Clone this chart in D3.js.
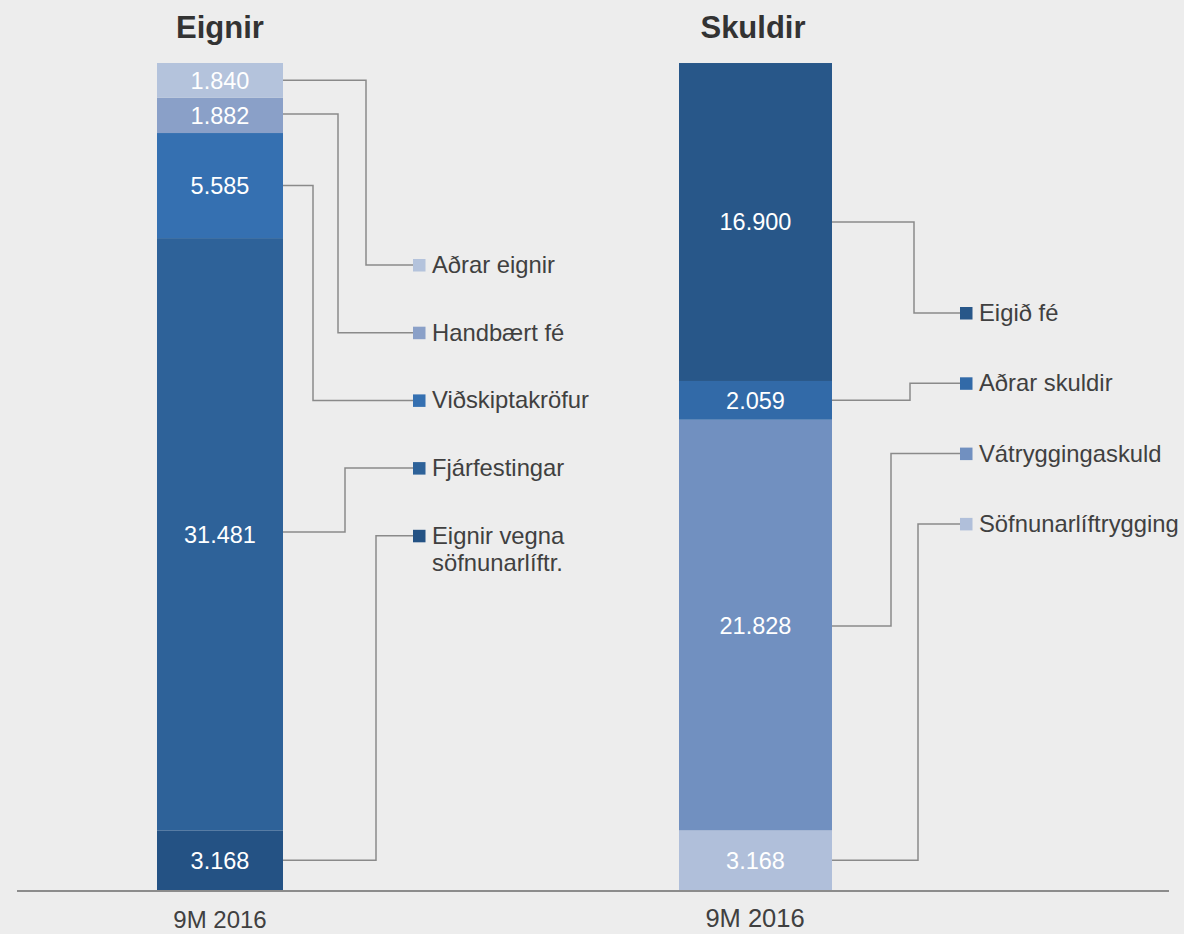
<!DOCTYPE html>
<html>
<head>
<meta charset="utf-8">
<script src="https://cdnjs.cloudflare.com/ajax/libs/d3/7.8.5/d3.min.js"></script>
<style>
  html, body { margin: 0; padding: 0; background: #ededed; }
  svg { display: block; font-family: "Liberation Sans", Arial, sans-serif; }
</style>
</head>
<body>
<svg id="chart" width="1184" height="934"></svg>
<script>
// ---------- DATA ----------
const category = "9M 2016";
const titles = ["Eignir", "Skuldir"];

// bottom to top
const assetNames  = ["Eignir vegna söfnunarlíftr.", "Fjárfestingar", "Viðskiptakröfur", "Handbært fé", "Aðrar eignir"];
const assetValues = [3.168, 31.481, 5.585, 1.882, 1.840];
const assetLabels = ["3.168", "31.481", "5.585", "1.882", "1.840"];

const liabNames  = ["Söfnunarlíftrygging", "Vátryggingaskuld", "Aðrar skuldir", "Eigið fé"];
const liabValues = [3.168, 21.828, 2.059, 16.900];
const liabLabels = ["3.168", "21.828", "2.059", "16.900"];

// ---------- STYLE / LAYOUT ----------
const assetColors = ["#245284", "#2e6299", "#3570b1", "#8aa0c8", "#b4c3dc"];
const liabColors  = ["#b0bfda", "#7190c0", "#326aa8", "#285789"];

const svg = d3.select("#chart");
const W = 1184, H = 934;
svg.append("rect").attr("width", W).attr("height", H).attr("fill", "#ededed");

const yBase = 890, yTop = 63;
const total = Math.max(d3.sum(assetValues), d3.sum(liabValues));
const y = d3.scaleLinear().domain([0, total]).range([yBase, yTop]);

const panels = [
  {
    title: titles[0], names: assetNames, values: assetValues, labels: assetLabels, colors: assetColors,
    x: d3.scaleBand().domain([category]).range([157, 283]).padding(0),
    titleX: 220, catX: 220, catY: 928, catSize: 24,
    legendOrder: [4, 3, 2, 1, 0],
    legendMarkerX: 413, legendY0: 265, legendStep: 67.7,
    elbowX: { 4: 366, 3: 338, 2: 313, 1: 345, 0: 376 },
    leaderY: { 3: 114, 1: 532 }
  },
  {
    title: titles[1], names: liabNames, values: liabValues, labels: liabLabels, colors: liabColors,
    x: d3.scaleBand().domain([category]).range([679, 832]).padding(0),
    titleX: 753, catX: 755, catY: 927, catSize: 25.5,
    legendOrder: [3, 2, 1, 0],
    legendMarkerX: 960, legendY0: 313, legendStep: 70.3,
    elbowX: { 3: 914, 2: 910, 1: 891, 0: 918 },
    leaderY: { 1: 626 }
  }
];

// baseline
svg.append("line")
  .attr("x1", 17).attr("x2", 1169)
  .attr("y1", yBase + 1).attr("y2", yBase + 1)
  .attr("stroke", "#8c8c8c").attr("stroke-width", 2);

panels.forEach(p => {
  const row = { cat: category };
  p.names.forEach((n, i) => row[n] = p.values[i]);
  const stacked = d3.stack().keys(p.names)([row]);

  const g = svg.append("g");
  const bx = p.x(category), bw = p.x.bandwidth();

  g.append("text")
    .attr("x", p.titleX).attr("y", 38)
    .attr("text-anchor", "middle")
    .attr("font-size", 31).attr("font-weight", "bold")
    .attr("fill", "#333333")
    .text(p.title);

  g.selectAll("rect.seg").data(stacked).join("rect")
    .attr("class", "seg")
    .attr("x", bx).attr("width", bw)
    .attr("y", d => y(d[0][1]))
    .attr("height", d => y(d[0][0]) - y(d[0][1]))
    .attr("fill", (d, i) => p.colors[i]);

  g.selectAll("text.val").data(stacked).join("text")
    .attr("class", "val")
    .attr("x", bx + bw / 2)
    .attr("y", d => (y(d[0][0]) + y(d[0][1])) / 2)
    .attr("dy", "0.36em")
    .attr("text-anchor", "middle")
    .attr("font-size", 23.5)
    .attr("fill", "#ffffff")
    .text((d, i) => p.labels[i]);

  p.legendOrder.forEach((si, k) => {
    const ly = p.legendY0 + k * p.legendStep;
    const s = stacked[si][0];
    const sy = p.leaderY[si] !== undefined ? p.leaderY[si] : (y(s[0]) + y(s[1])) / 2;
    const ex = p.elbowX[si];
    g.append("path")
      .attr("d", `M${bx + bw},${sy}H${ex}V${ly}H${p.legendMarkerX}`)
      .attr("fill", "none")
      .attr("stroke", "#8a8a8a")
      .attr("stroke-width", 1.5);
    g.append("rect")
      .attr("x", p.legendMarkerX).attr("y", ly - 6)
      .attr("width", 12.5).attr("height", 12.5)
      .attr("fill", p.colors[si]);
    const name = p.names[si];
    const t = g.append("text")
      .attr("x", p.legendMarkerX + 19).attr("y", ly + 8)
      .attr("font-size", 23.8).attr("fill", "#404040");
    if (name === "Eignir vegna söfnunarlíftr.") {
      t.append("tspan").attr("x", p.legendMarkerX + 19).attr("dy", 0).text("Eignir vegna");
      t.append("tspan").attr("x", p.legendMarkerX + 19).attr("dy", 27).text("söfnunarlíftr.");
    } else {
      t.text(name);
    }
  });

  g.append("text")
    .attr("x", p.catX).attr("y", p.catY)
    .attr("text-anchor", "middle")
    .attr("font-size", p.catSize)
    .attr("fill", "#404040")
    .text(category);
});
</script>
</body>
</html>
